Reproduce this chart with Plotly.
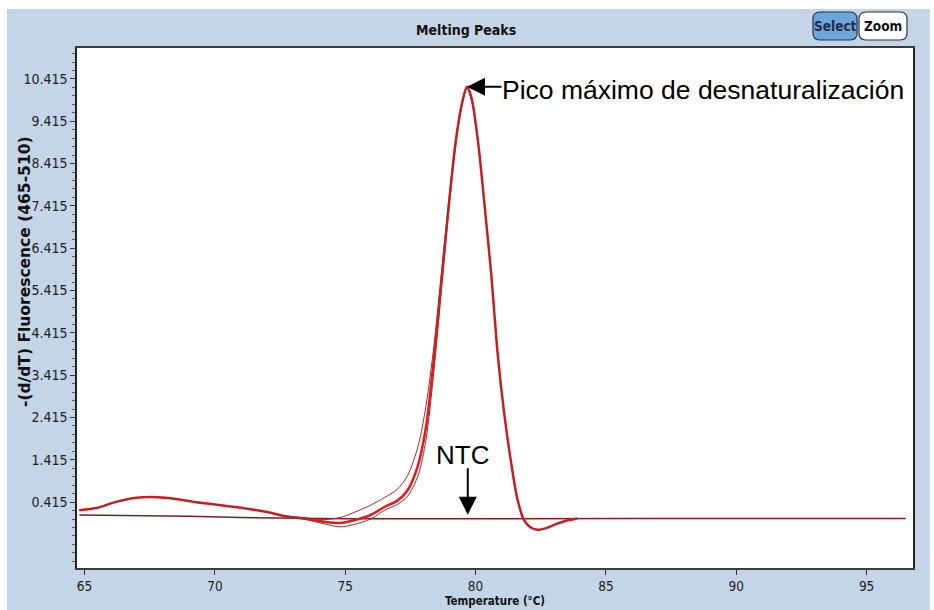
import plotly.graph_objects as go

# ---------------- data ----------------
temps = [64.8, 65.5, 66.2, 67.0, 67.8, 68.5, 69.2, 70.0, 71.0, 72.0, 72.7, 73.5, 74.2, 74.8,
         75.3, 76.0, 76.5, 77.0, 77.4, 77.8, 78.1, 78.4, 78.7, 79.0, 79.25, 79.5, 79.67,
         79.85, 80.1, 80.35, 80.6, 80.85, 81.1, 81.35, 81.6, 81.85, 82.1, 82.4, 82.7,
         83.1, 83.5, 83.9]
sample_a = [0.22, 0.28, 0.42, 0.52, 0.53, 0.49, 0.42, 0.36, 0.28, 0.18, 0.08, 0.02, -0.05, -0.08,
            -0.02, 0.12, 0.30, 0.45, 0.70, 1.3, 2.2, 3.8, 5.7, 7.6, 9.0, 9.9, 10.23,
            9.95, 8.9, 7.4, 5.8, 3.9, 2.5, 1.4, 0.5, 0.0, -0.18, -0.24, -0.2,
            -0.1, -0.02, 0.03]
sample_b = [0.22, 0.28, 0.42, 0.52, 0.53, 0.49, 0.42, 0.36, 0.28, 0.18, 0.09, 0.04, 0.0, 0.05,
            0.16, 0.35, 0.52, 0.72, 1.05, 1.75, 2.7, 4.1, 5.9, 7.7, 9.0, 9.9, 10.2,
            9.9, 8.9, 7.4, 5.8, 3.9, 2.5, 1.4, 0.5, 0.0, -0.18, -0.24, -0.2,
            -0.1, -0.02, 0.03]
sample_c = [0.22, 0.28, 0.42, 0.52, 0.53, 0.49, 0.42, 0.36, 0.28, 0.18, 0.07, 0.0, -0.10, -0.17,
            -0.12, 0.02, 0.22, 0.36, 0.56, 1.05, 1.9, 3.5, 5.5, 7.5, 8.9, 9.85, 10.2,
            9.9, 8.9, 7.4, 5.8, 3.9, 2.5, 1.4, 0.5, 0.0, -0.18, -0.24, -0.2,
            -0.1, -0.02, 0.03]
ntc_temps = [64.8, 67.0, 69.0, 71.0, 73.0, 75.0, 78.0, 82.0, 86.0, 90.0, 96.5]
ntc_values = [0.11, 0.10, 0.08, 0.05, 0.03, 0.02, 0.02, 0.03, 0.03, 0.03, 0.03]

y_ticks = [0.415, 1.415, 2.415, 3.415, 4.415, 5.415, 6.415, 7.415, 8.415, 9.415, 10.415]
x_ticks = [65, 70, 75, 80, 85, 90, 95]
ntc_point_temp = 79.7

title_text = "Melting Peaks"
x_title = "Temperature (°C)"
y_title = "-(d/dT) Fluorescence (465-510)"
peak_label = "Pico máximo de desnaturalización"
ntc_label = "NTC"

# ---------------- layout geometry (pixels) ----------------
W, H = 934, 610
L, R, T, B = 77, 913, 48, 568
pw, ph = R - L, B - T


def px(xp):
    return (xp - L) / pw


def py(yp):
    return (B - yp) / ph


narrow = "Liberation Sans Narrow, DejaVu Sans Condensed, Arial Narrow, sans-serif"
arial = "Liberation Sans, Arial, sans-serif"
wide = "DejaVu Sans, Verdana, sans-serif"
panel_blue = "#c3d5e6"

fig = go.Figure()

fig.add_trace(go.Scatter(x=ntc_temps, y=ntc_values, mode="lines",
                         line=dict(color="#7d1f1f", width=1.5), hoverinfo="skip"))
fig.add_trace(go.Scatter(x=temps, y=sample_a, mode="lines",
                         line=dict(color="#e01b1b", width=2.5, shape="spline", smoothing=0.8)))
fig.add_trace(go.Scatter(x=temps, y=sample_b, mode="lines",
                         line=dict(color="#a8282c", width=1, shape="spline", smoothing=0.8)))
fig.add_trace(go.Scatter(x=temps, y=sample_c, mode="lines",
                         line=dict(color="#a8282c", width=1, shape="spline", smoothing=0.8)))

peak_i = max(range(len(sample_a)), key=lambda i: sample_a[i])
peak_x, peak_y = temps[peak_i], sample_a[peak_i]

# NTC baseline value at the arrow position (read from NTC series)
ntc_y = None
for i in range(len(ntc_temps) - 1):
    if ntc_temps[i] <= ntc_point_temp <= ntc_temps[i + 1]:
        f = (ntc_point_temp - ntc_temps[i]) / (ntc_temps[i + 1] - ntc_temps[i])
        ntc_y = ntc_values[i] + f * (ntc_values[i + 1] - ntc_values[i])

shapes = [
    dict(type="rect", xref="paper", yref="paper", x0=px(7), x1=px(930), y0=py(612), y1=py(9),
         fillcolor=panel_blue, line=dict(width=0), layer="below"),
    dict(type="rect", xref="paper", yref="paper", x0=0, x1=1, y0=0, y1=1,
         fillcolor="white", line=dict(width=0), layer="below"),
]


def rounded(x0, y0, x1, y1, r):
    p = (f"M{px(x0 + r)},{py(y0)} L{px(x1 - r)},{py(y0)} Q{px(x1)},{py(y0)} {px(x1)},{py(y0 + r)} "
         f"L{px(x1)},{py(y1 - r)} Q{px(x1)},{py(y1)} {px(x1 - r)},{py(y1)} "
         f"L{px(x0 + r)},{py(y1)} Q{px(x0)},{py(y1)} {px(x0)},{py(y1 - r)} "
         f"L{px(x0)},{py(y0 + r)} Q{px(x0)},{py(y0)} {px(x0 + r)},{py(y0)} Z")
    return p


shapes.append(dict(type="path", xref="paper", yref="paper", path=rounded(813, 12, 857, 40, 7),
                   fillcolor="#6ea6dc", line=dict(color="#1d3557", width=1.2), layer="above"))
shapes.append(dict(type="path", xref="paper", yref="paper", path=rounded(859, 12, 907, 40, 7),
                   fillcolor="white", line=dict(color="#333333", width=1.2), layer="above"))


def label(text, xp, yp, size, family=narrow, color="#111111", angle=0):
    return dict(text=text, xref="paper", yref="paper", x=px(xp), y=py(yp),
                xanchor="center", yanchor="middle", showarrow=False, textangle=angle,
                font=dict(family=family, size=size, color=color))


annotations = [
    label("<b>" + title_text + "</b>", 466, 30, 14),
    label("<b>Select</b>", 835, 26, 13.5, color="#1d2b45"),
    label("<b>Zoom</b>", 883, 26, 13.5),
    label("<b>" + x_title + "</b>", 495, 601, 11.5),
    label("<b>" + y_title + "</b>", 25, 272, 15.5, family=wide, angle=-90),
    # peak arrow + label
    dict(text="", x=peak_x, y=peak_y, xref="x", yref="y", showarrow=True, ax=36, ay=0,
         arrowhead=2, arrowsize=1.8, arrowwidth=2, arrowcolor="black", standoff=0),
    dict(text=peak_label, x=peak_x, y=peak_y, xref="x", yref="y", showarrow=False,
         xanchor="left", yanchor="middle", xshift=33, yshift=-3,
         font=dict(family=arial, size=26.5, color="black")),
    # NTC arrow + label
    dict(text="", x=ntc_point_temp, y=ntc_y, xref="x", yref="y", showarrow=True, ax=0, ay=-52,
         arrowhead=2, arrowsize=1.8, arrowwidth=2, arrowcolor="black", standoff=4),
    dict(text=ntc_label, x=ntc_point_temp, y=ntc_y, xref="x", yref="y", showarrow=False,
         xanchor="center", yanchor="middle", xshift=-5, yshift=64,
         font=dict(family=arial, size=26, color="black")),
]

fig.update_layout(
    width=W, height=H, autosize=False,
    margin=dict(l=L, r=W - R, t=T, b=H - B),
    paper_bgcolor="white", plot_bgcolor="white",
    showlegend=False,
    shapes=shapes, annotations=annotations,
)

fig.update_xaxes(range=[64.71, 96.78], tickvals=x_ticks, ticktext=[str(v) for v in x_ticks],
                 ticks="outside", ticklen=5, tickcolor="#333333",
                 showline=True, linecolor="#3a3a3a", linewidth=1.5, mirror=True,
                 showgrid=False, zeroline=False,
                 tickfont=dict(family=narrow, size=13.5, color="#222222"))
fig.update_yaxes(range=[-1.142, 11.146], tickvals=y_ticks, ticktext=[f"{v:.3f}" for v in y_ticks],
                 ticks="outside", ticklen=5, tickcolor="#333333",
                 minor=dict(dtick=0.2, tick0=0.415, ticks="outside", ticklen=3, tickcolor="#555555"),
                 showline=True, linecolor="#222222", linewidth=1.5, mirror=True,
                 showgrid=False, zeroline=False,
                 tickfont=dict(family=narrow, size=14, color="#222222"))

fig.write_html("out.html")
